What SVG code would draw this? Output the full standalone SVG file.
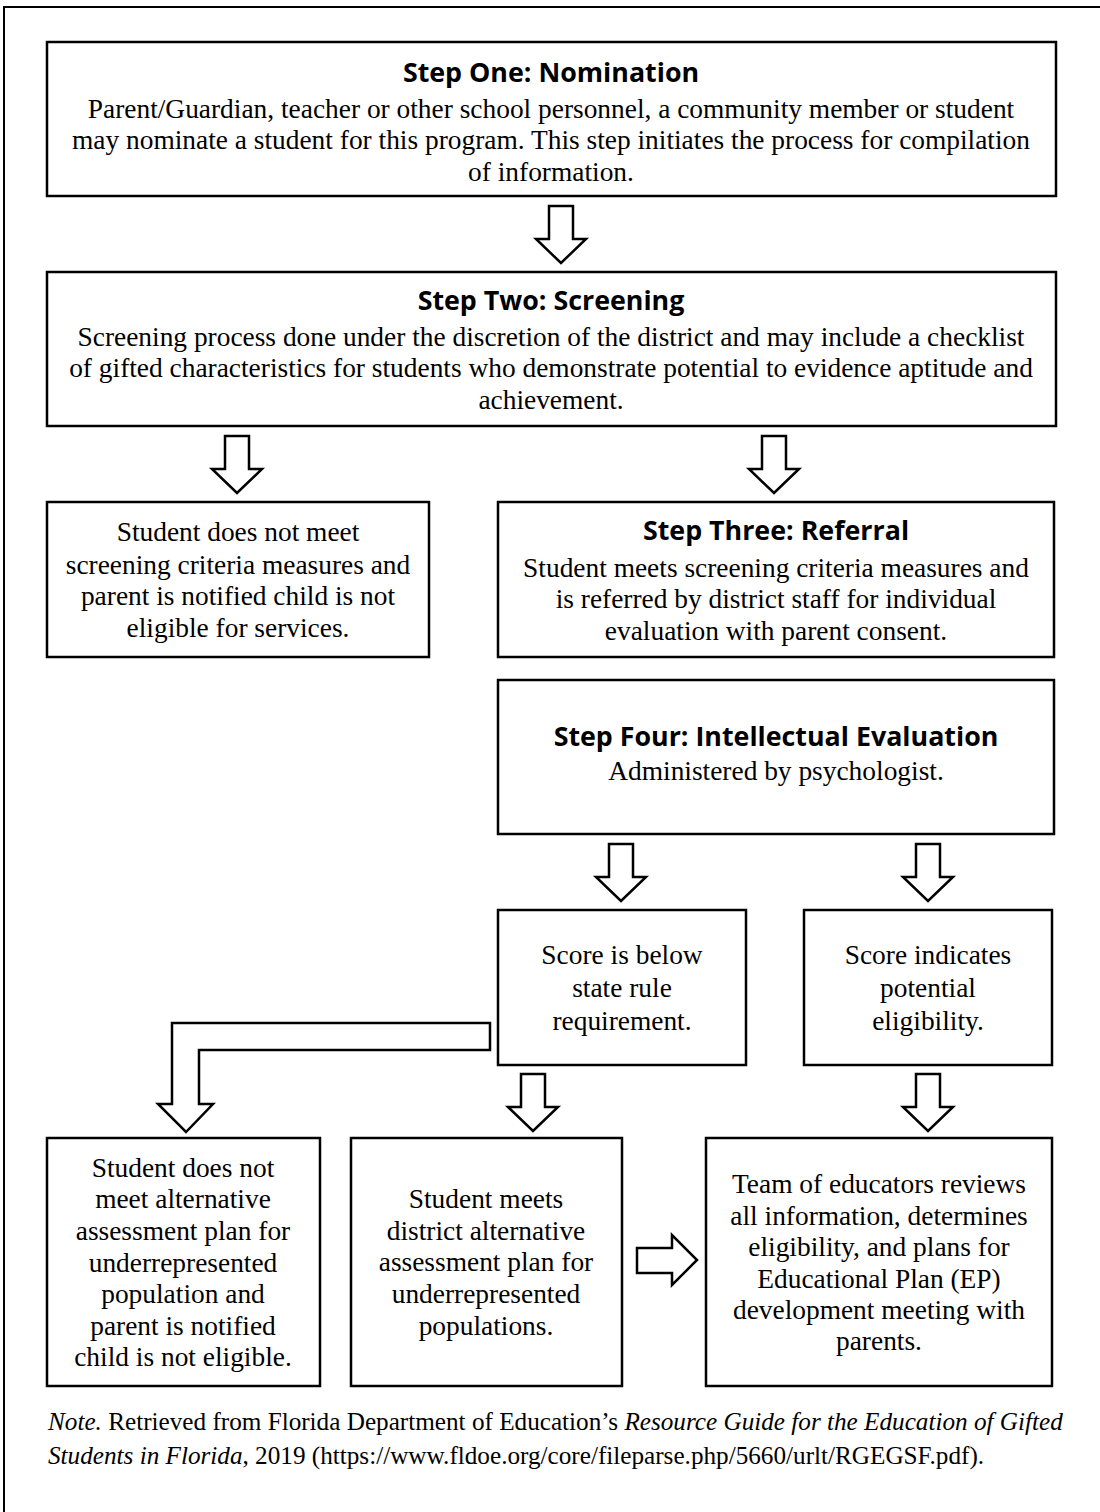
<svg xmlns="http://www.w3.org/2000/svg" width="1100" height="1512" viewBox="0 0 1100 1512">
<style>
.box{fill:#fff;stroke:#000;stroke-width:2.5}
.arr{fill:#fff;stroke:#000;stroke-width:2.5;stroke-linejoin:miter}
.t{font-family:"Open Sans","Liberation Sans",sans-serif;font-weight:bold;font-size:26.8px;text-anchor:middle;fill:#000}
.b{font-family:"Liberation Serif","Times New Roman",serif;font-size:27.4px;text-anchor:middle;fill:#000}
.n{font-family:"Liberation Serif","Times New Roman",serif;font-size:25.2px;fill:#000}
</style>
<defs>
<path id="down" d="M-12,0 H12 V33 H25 L0,57 L-25,33 H-12 Z"/>
</defs>
<rect width="1100" height="1512" fill="#fff"/>
<path d="M4,1512 V7 H1100" fill="none" stroke="#000" stroke-width="2"/>

<g id="connectors">
<use href="#down" class="arr" x="561" y="206"/>
<use href="#down" class="arr" x="237" y="436"/>
<use href="#down" class="arr" x="774" y="436"/>
<use href="#down" class="arr" x="621" y="844"/>
<use href="#down" class="arr" x="928" y="844"/>
<use href="#down" class="arr" x="533" y="1074"/>
<use href="#down" class="arr" x="928" y="1074"/>
<path class="arr" d="M490,1023 V1050 H199 V1104 H213 L186,1132 L158,1104 H172 V1023 Z"/>
<path class="arr" d="M637,1248 H672 V1235 L697,1260 L672,1285 V1273 H637 Z"/>
</g>

<g id="n1">
<rect class="box" x="47" y="42" width="1009" height="154"/>
<text class="t" x="551" y="82">Step One: Nomination</text>
<text class="b" x="551" y="118">Parent/Guardian, teacher or other school personnel, a community member or student</text>
<text class="b" x="551" y="149">may nominate a student for this program. This step initiates the process for compilation</text>
<text class="b" x="551" y="181">of information.</text>
</g>
<g id="n2">
<rect class="box" x="47" y="272" width="1009" height="154"/>
<text class="t" x="551" y="310">Step Two: Screening</text>
<text class="b" x="551" y="346">Screening process done under the discretion of the district and may include a checklist</text>
<text class="b" x="551" y="377">of gifted characteristics for students who demonstrate potential to evidence aptitude and</text>
<text class="b" x="551" y="409">achievement.</text>
</g>
<g id="n3">
<rect class="box" x="47" y="502" width="382" height="155"/>
<text class="b" x="238" y="541">Student does not meet</text>
<text class="b" x="238" y="574">screening criteria measures and</text>
<text class="b" x="238" y="605">parent is notified child is not</text>
<text class="b" x="238" y="637">eligible for services.</text>
</g>
<g id="n4">
<rect class="box" x="498" y="502" width="556" height="155"/>
<text class="t" x="776" y="540">Step Three: Referral</text>
<text class="b" x="776" y="577">Student meets screening criteria measures and</text>
<text class="b" x="776" y="608">is referred by district staff for individual</text>
<text class="b" x="776" y="640">evaluation with parent consent.</text>
</g>
<g id="n5">
<rect class="box" x="498" y="680" width="556" height="154"/>
<text class="t" x="776" y="746">Step Four: Intellectual Evaluation</text>
<text class="b" x="776" y="780">Administered by psychologist.</text>
</g>
<g id="n6">
<rect class="box" x="498" y="910" width="248" height="155"/>
<text class="b" x="622" y="964">Score is below</text>
<text class="b" x="622" y="997">state rule</text>
<text class="b" x="622" y="1030">requirement.</text>
</g>
<g id="n7">
<rect class="box" x="804" y="910" width="248" height="155"/>
<text class="b" x="928" y="964">Score indicates</text>
<text class="b" x="928" y="997">potential</text>
<text class="b" x="928" y="1030">eligibility.</text>
</g>
<g id="n8">
<rect class="box" x="47" y="1138" width="273" height="248"/>
<text class="b" x="183" y="1177">Student does not</text>
<text class="b" x="183" y="1208">meet alternative</text>
<text class="b" x="183" y="1240">assessment plan for</text>
<text class="b" x="183" y="1272">underrepresented</text>
<text class="b" x="183" y="1303">population and</text>
<text class="b" x="183" y="1335">parent is notified</text>
<text class="b" x="183" y="1366">child is not eligible.</text>
</g>
<g id="n9">
<rect class="box" x="351" y="1138" width="271" height="248"/>
<text class="b" x="486" y="1208">Student meets</text>
<text class="b" x="486" y="1240">district alternative</text>
<text class="b" x="486" y="1271">assessment plan for</text>
<text class="b" x="486" y="1303">underrepresented</text>
<text class="b" x="486" y="1335">populations.</text>
</g>
<g id="n10">
<rect class="box" x="706" y="1138" width="346" height="248"/>
<text class="b" x="879" y="1193">Team of educators reviews</text>
<text class="b" x="879" y="1225">all information, determines</text>
<text class="b" x="879" y="1256">eligibility, and plans for</text>
<text class="b" x="879" y="1288">Educational Plan (EP)</text>
<text class="b" x="879" y="1319">development meeting with</text>
<text class="b" x="879" y="1350">parents.</text>
</g>

<g id="note">
<text class="n" x="48" y="1430"><tspan font-style="italic">Note.</tspan> Retrieved from Florida Department of Education’s <tspan font-style="italic">Resource Guide for the Education of Gifted</tspan></text>
<text class="n" x="48" y="1464"><tspan font-style="italic">Students in Florida</tspan>, 2019 (https://www.fldoe.org/core/fileparse.php/5660/urlt/RGEGSF.pdf).</text>
</g>
</svg>
